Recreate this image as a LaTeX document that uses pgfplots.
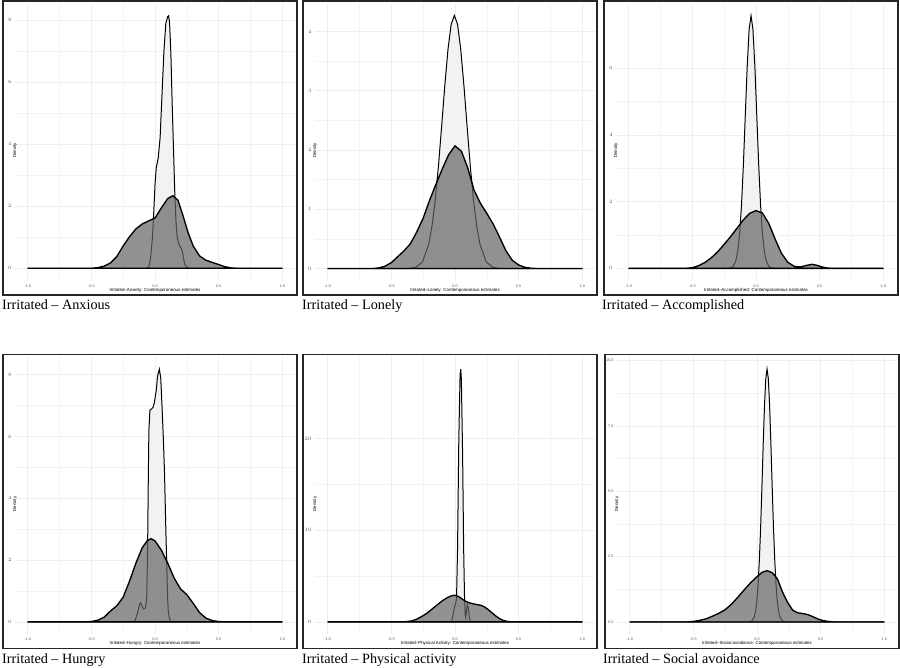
\documentclass[border=0pt]{standalone}
\usepackage{fontspec}
\setmainfont{Liberation Serif}
\setsansfont{Liberation Sans}
\usepackage{pgfplots}
\usepackage{pgfplotstable}
\pgfplotsset{compat=1.18}

\definecolor{darkfill}{RGB}{100,100,100}
\definecolor{lightfill}{RGB}{242,242,242}
\definecolor{gridmajor}{RGB}{238,238,238}
\definecolor{gridminor}{RGB}{243,243,243}
\definecolor{tickgray}{RGB}{90,90,90}

% --- Irritated - Anxious
\pgfplotstableread{
x y
-1 0
-0.07 0
-0.05 0.03
-0.035 0.3
-0.02 1.0
-0.01 1.8
0.0 2.7
0.01 3.25
0.025 3.55
0.04 4.2
0.055 5.6
0.07 7.0
0.085 7.9
0.1 8.12
0.107 8.15
0.115 7.9
0.125 6.9
0.135 5.3
0.145 3.9
0.155 2.5
0.165 1.5
0.175 1.0
0.19 0.75
0.205 0.65
0.215 0.55
0.225 0.3
0.235 0.12
0.25 0.03
0.27 0
1 0
}\anxN
\pgfplotstableread{
x y
-1 0
-0.50 0
-0.45 0.02
-0.40 0.07
-0.35 0.17
-0.30 0.38
-0.25 0.72
-0.20 1.02
-0.15 1.27
-0.10 1.43
-0.05 1.53
0.0 1.62
0.05 1.95
0.10 2.25
0.14 2.34
0.18 2.2
0.22 1.7
0.26 1.15
0.30 0.72
0.35 0.4
0.40 0.26
0.45 0.19
0.50 0.12
0.55 0.05
0.60 0.01
0.65 0
1 0
}\anxW

% --- Irritated - Lonely
\pgfplotstableread{
x y
-1 0
-0.40 0
-0.355 0.003
-0.305 0.024
-0.255 0.115
-0.205 0.42
-0.18 0.73
-0.155 1.16
-0.13 1.73
-0.105 2.40
-0.08 3.09
-0.055 3.70
-0.03 4.12
-0.005 4.27
0.02 4.12
0.045 3.70
0.07 3.09
0.095 2.40
0.12 1.73
0.145 1.16
0.17 0.73
0.195 0.42
0.245 0.115
0.295 0.024
0.345 0.003
0.40 0
1 0
}\lonN
\pgfplotstableread{
x y
-1 0
-0.65 0
-0.60 0.01
-0.55 0.04
-0.50 0.1
-0.45 0.2
-0.40 0.3
-0.35 0.42
-0.30 0.62
-0.25 0.85
-0.20 1.15
-0.15 1.42
-0.10 1.68
-0.05 1.92
0.0 2.07
0.05 1.98
0.10 1.70
0.15 1.32
0.20 1.1
0.25 0.93
0.30 0.75
0.35 0.53
0.40 0.3
0.45 0.14
0.50 0.06
0.55 0.02
0.60 0.005
0.65 0
1 0
}\lonW

% --- Irritated - Accomplished
\pgfplotstableread{
x y
-1 0
-0.24 0
-0.199 0.01
-0.179 0.06
-0.159 0.22
-0.144 0.50
-0.129 1.03
-0.114 1.89
-0.099 3.12
-0.084 4.60
-0.069 6.07
-0.054 7.17
-0.039 7.58
-0.024 7.17
-0.009 6.07
0.006 4.60
0.021 3.12
0.036 1.89
0.051 1.03
0.066 0.50
0.081 0.22
0.101 0.06
0.121 0.01
0.16 0
1 0
}\accN
\pgfplotstableread{
x y
-1 0
-0.55 0
-0.50 0.02
-0.45 0.08
-0.40 0.18
-0.35 0.32
-0.30 0.5
-0.25 0.72
-0.20 0.95
-0.15 1.2
-0.10 1.45
-0.05 1.65
0.0 1.73
0.05 1.66
0.10 1.35
0.15 0.88
0.20 0.45
0.25 0.18
0.30 0.06
0.35 0.04
0.40 0.09
0.44 0.12
0.48 0.09
0.52 0.04
0.56 0.01
0.60 0
1 0
}\accW

% --- Irritated - Hungry
\pgfplotstableread{
x y
-1 0
-0.17 0
-0.155 0.06
-0.14 0.25
-0.125 0.5
-0.115 0.62
-0.105 0.55
-0.09 0.42
-0.075 0.45
-0.065 0.8
-0.058 2.4
-0.053 4.5
-0.048 6.2
-0.04 6.85
-0.025 6.9
-0.015 6.95
-0.005 7.1
0.01 7.5
0.02 7.95
0.034 8.18
0.045 7.9
0.055 7.0
0.065 6.0
0.075 4.8
0.085 3.0
0.092 1.9
0.10 0.7
0.105 0.3
0.115 0.08
0.125 0
1 0
}\hunN
\pgfplotstableread{
x y
-1 0
-0.55 0
-0.50 0.01
-0.45 0.05
-0.40 0.15
-0.35 0.35
-0.30 0.52
-0.25 0.8
-0.20 1.32
-0.15 1.9
-0.10 2.4
-0.06 2.63
-0.03 2.69
0.0 2.62
0.05 2.32
0.10 1.9
0.15 1.42
0.20 1.07
0.25 0.88
0.30 0.6
0.35 0.3
0.40 0.12
0.45 0.04
0.50 0.01
0.55 0
1 0
}\hunW

% --- Irritated - Physical activity
\pgfplotstableread{
x y
-1 0
-0.035 0
-0.027 0.05
-0.015 0.8
-0.005 1.6
0.005 2.0
0.012 2.5
0.02 8
0.03 20
0.04 27
0.045 27.6
0.05 26.5
0.06 18
0.068 8
0.075 2.5
0.08 0.8
0.085 0.5
0.09 1.2
0.097 1.9
0.105 1.5
0.112 0.6
0.12 0.05
0.13 0
1 0
}\phyN
\pgfplotstableread{
x y
-1 0
-0.42 0
-0.38 0.03
-0.34 0.1
-0.30 0.3
-0.26 0.6
-0.22 0.95
-0.18 1.4
-0.14 1.85
-0.10 2.3
-0.06 2.65
-0.02 2.88
0.0 2.9
0.03 2.75
0.06 2.45
0.09 2.2
0.12 2.05
0.16 1.92
0.20 1.82
0.23 1.65
0.26 1.35
0.29 1.0
0.32 0.65
0.35 0.35
0.38 0.15
0.41 0.05
0.44 0.01
0.47 0
1 0
}\phyW

% --- Irritated - Social avoidance
\pgfplotstableread{
x y
-1 0
-0.07 0
-0.041 0.04
-0.021 0.20
-0.011 0.42
-0.001 0.82
0.009 1.46
0.019 2.41
0.029 3.68
0.039 5.22
0.049 6.84
0.059 8.29
0.069 9.30
0.079 9.67
0.089 9.30
0.099 8.29
0.109 6.84
0.119 5.22
0.129 3.68
0.139 2.41
0.149 1.46
0.159 0.82
0.169 0.42
0.179 0.20
0.199 0.04
0.23 0
1 0
}\socN
\pgfplotstableread{
x y
-1 0
-0.55 0
-0.50 0.02
-0.45 0.06
-0.40 0.12
-0.35 0.22
-0.30 0.33
-0.25 0.47
-0.20 0.68
-0.15 0.95
-0.10 1.23
-0.05 1.5
0.0 1.73
0.04 1.9
0.08 1.96
0.12 1.88
0.16 1.65
0.20 1.15
0.24 0.75
0.28 0.45
0.32 0.35
0.36 0.32
0.40 0.28
0.44 0.2
0.48 0.11
0.52 0.05
0.56 0.02
0.60 0
1 0
}\socW

\pgfplotsset{
  panel/.style={
    scale only axis, width=280pt, height=278pt,
    xmin=-1.1, xmax=1.1,
    xtick={-1,-0.5,0,0.5,1},
    xticklabels={-1.0,-0.5,0.0,0.5,1.0},
    minor x tick num=1, minor y tick num=1,
    grid=both,
    major grid style={line width=0.5pt, draw=gridmajor},
    minor grid style={line width=0.35pt, draw=gridminor},
    axis line style={draw=none},
    major tick length=0pt, minor tick length=0pt,
    tick label style={font=\sffamily\fontsize{3.8}{4}\selectfont, text=tickgray},
    ylabel={Density},
    ylabel style={font=\sffamily\fontsize{4.4}{5}\selectfont, at={(axis description cs:0,0.5)}, anchor=center, xshift=-8.5pt},
    xlabel style={font=\sffamily\fontsize{4.4}{5}\selectfont, at={(axis description cs:0.5,0)}, anchor=center, yshift=-9pt},
  },
  narrow/.style={draw=black, line width=1.0pt, fill=lightfill},
  wide/.style={draw=black, line width=1.35pt, fill=darkfill, fill opacity=0.7},
}
\tikzset{
  captext/.style={anchor=base west, inner sep=0pt, font=\fontsize{14.2}{16}\selectfont},
  panelframe/.style={draw=black!85, line width=1.3pt},
}

\begin{document}
\begin{tikzpicture}[x=1pt, y=1pt]
\useasboundingbox (0,0) rectangle (900,667);

% top row
\begin{axis}[panel, at={(15pt,386pt)}, anchor=south west,
    ymin=-0.41, ymax=8.56, ytick={0,2,4,6,8},
    xlabel={Irritated–Anxiety: Contemporaneous estimates}]
\addplot[narrow] table {\anxN} \closedcycle;
\addplot[wide] table {\anxW} \closedcycle;
\end{axis}
\draw[panelframe] (3,666) rectangle (297,372);
\node[captext] at (2,357) {Irritated – Anxious};

\begin{axis}[panel, at={(315pt,386pt)}, anchor=south west,
    ymin=-0.21, ymax=4.48, ytick={0,1,2,3,4},
    xlabel={Irritated–Lonely: Contemporaneous estimates}]
\addplot[narrow] table {\lonN} \closedcycle;
\addplot[wide] table {\lonW} \closedcycle;
\end{axis}
\draw[panelframe] (303,666) rectangle (597,372);
\node[captext] at (302,357) {Irritated – Lonely};

\begin{axis}[panel, at={(616pt,386pt)}, anchor=south west,
    ymin=-0.38, ymax=7.96, ytick={0,2,4,6},
    xlabel={Irritated–Accomplished: Contemporaneous estimates}]
\addplot[narrow] table {\accN} \closedcycle;
\addplot[wide] table {\accW} \closedcycle;
\end{axis}
\draw[panelframe] (604,666) rectangle (898,372);
\node[captext] at (602,357) {Irritated – Accomplished};

% bottom row
\begin{axis}[panel, at={(15pt,32.5pt)}, anchor=south west,
    ymin=-0.41, ymax=8.59, ytick={0,2,4,6,8},
    xlabel={Irritated–Hungry: Contemporaneous estimates}]
\addplot[narrow] table {\hunN} \closedcycle;
\addplot[wide] table {\hunW} \closedcycle;
\end{axis}
\draw[panelframe] (3,312.5) rectangle (297,18.5);
\node[captext] at (2,4) {Irritated – Hungry};

\begin{axis}[panel, at={(315pt,32.5pt)}, anchor=south west,
    ymin=-1.38, ymax=28.98, ytick={0,10,20},
    xlabel={Irritated–Physical Activity: Contemporaneous estimates}]
\addplot[narrow] table {\phyN} \closedcycle;
\addplot[wide] table {\phyW} \closedcycle;
\end{axis}
\draw[panelframe] (303,312.5) rectangle (597,18.5);
\node[captext] at (302,4) {Irritated – Physical activity};

\begin{axis}[panel, at={(617pt,32.5pt)}, anchor=south west,
    ymin=-0.48, ymax=10.15, ytick={0,2.5,5,7.5,10},
    yticklabels={0.0,2.5,5.0,7.5,10.0},
    xlabel={Irritated–Social avoidance: Contemporaneous estimates}]
\addplot[narrow] table {\socN} \closedcycle;
\addplot[wide] table {\socW} \closedcycle;
\end{axis}
\draw[panelframe] (605,312.5) rectangle (899,18.5);
\node[captext] at (603,4) {Irritated – Social avoidance};
\end{tikzpicture}
\end{document}
